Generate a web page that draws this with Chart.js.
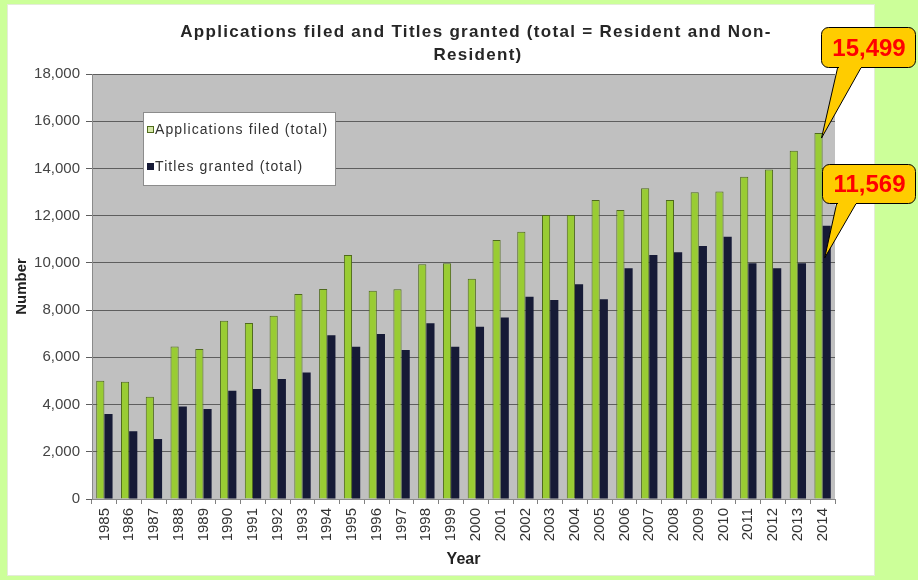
<!DOCTYPE html>
<html>
<head>
<meta charset="utf-8">
<script src="https://cdn.jsdelivr.net/npm/chart.js@4"></script>
<style>
  html, body { margin: 0; padding: 0; background: #ccff99; }
  #wrap { position: absolute; left: 0; top: 0; width: 918px; height: 580px; }
</style>
</head>
<body>
<div id="wrap"><canvas id="chartTitres" width="918" height="580"></canvas></div>
<script>
const years = ["1985", "1986", "1987", "1988", "1989", "1990", "1991", "1992", "1993", "1994",
  "1995", "1996", "1997", "1998", "1999", "2000", "2001", "2002", "2003", "2004",
  "2005", "2006", "2007", "2008", "2009", "2010", "2011", "2012", "2013", "2014"];

const applicationsFiled = [5010, 4970, 4330, 6460, 6350, 7550, 7450, 7760, 8680, 8890,
  10330, 8820, 8880, 9940, 9980, 9330, 10970, 11320, 12030, 12030,
  12660, 12240, 13160, 12660, 12990, 13020, 13650, 13960, 14750, 15499];

const titlesGranted = [3600, 2870, 2540, 3920, 3810, 4590, 4660, 5080, 5360, 6940,
  6450, 6990, 6310, 7440, 6450, 7300, 7690, 8570, 8430, 9100,
  8460, 9770, 10330, 10450, 10720, 11110, 9980, 9770, 9980, 11569];

const yTicks = [0, 2000, 4000, 6000, 8000, 10000, 12000, 14000, 16000, 18000];

const titleLines = ["Applications filed and Titles granted (total = Resident and Non-", "Resident)"];

// callouts pointing at the 2014 bars
const callouts = [
  { dataset: 0, index: 29, text: "15,499", box: [821, 27, 94, 40], base: [838, 862], tipDx: 3, tipDy: 5 },
  { dataset: 1, index: 29, text: "11,569", box: [822, 164, 93, 39], base: [837, 857], tipDx: -2, tipDy: 32 },
];

const FONT = "'Liberation Sans', Arial, sans-serif";

// fond du panneau + zone grise du graphique
const fondPlugin = {
  id: "fond",
  beforeDraw(chart) {
    const { ctx, chartArea: a } = chart;
    ctx.save();
    ctx.fillStyle = "#ffffff";
    ctx.fillRect(7, 4, 868, 572);
    ctx.strokeStyle = "#e4ecd8";
    ctx.strokeRect(7.5, 4.5, 867, 571);
    ctx.fillStyle = "#c0c0c0";
    ctx.fillRect(a.left, a.top, a.right - a.left, a.bottom - a.top);
    ctx.restore();
  },
};

// titre + légende + bulles
const decorPlugin = {
  id: "decor",
  afterDraw(chart) {
    const { ctx } = chart;
    ctx.save();

    // titre
    ctx.font = "bold 17px " + FONT;
    ctx.letterSpacing = "1.3px";
    ctx.fillStyle = "#262626";
    ctx.textAlign = "center";
    ctx.textBaseline = "middle";
    ctx.fillText(titleLines[0], 476, 32);
    ctx.fillText(titleLines[1], 478, 55);

    // légende
    ctx.fillStyle = "#ffffff";
    ctx.fillRect(143, 112, 192, 73);
    ctx.strokeStyle = "#8c8c8c";
    ctx.lineWidth = 1;
    ctx.strokeRect(143.5, 112.5, 192, 73);
    ctx.font = "14px " + FONT;
    ctx.letterSpacing = "1.1px";
    ctx.textAlign = "left";
    chart.data.datasets.forEach((ds, i) => {
      const y = i === 0 ? 130 : 167;
      ctx.fillStyle = i === 0 ? "#d6e8a8" : ds.backgroundColor;
      ctx.fillRect(147, y - 4, 7, 7);
      ctx.strokeStyle = ds.borderColor;
      ctx.strokeRect(147.5, y - 3.5, 6, 6);
      ctx.fillStyle = "#333333";
      ctx.fillText(ds.label, 155, y);
    });
    ctx.letterSpacing = "0px";

    // bulles
    callouts.forEach((c) => {
      const bar = chart.getDatasetMeta(c.dataset).data[c.index];
      const yScale = chart.scales.y;
      const value = chart.data.datasets[c.dataset].data[c.index];
      const tipX = bar.x + c.tipDx;
      const tipY = yScale.getPixelForValue(value) + c.tipDy;
      const [bx, by, bw, bh] = c.box;
      const bottom = by + bh;

      ctx.fillStyle = "#ffcc00";
      ctx.strokeStyle = "#000000";
      ctx.lineWidth = 1;
      ctx.beginPath();
      ctx.moveTo(c.base[0], bottom - 1);
      ctx.lineTo(tipX, tipY);
      ctx.lineTo(c.base[1], bottom - 1);
      ctx.closePath();
      ctx.fill();
      ctx.stroke();

      ctx.beginPath();
      ctx.roundRect(bx + 0.5, by + 0.5, bw, bh, 7);
      ctx.fill();
      ctx.stroke();

      ctx.fillRect(c.base[0] + 1, bottom - 2, c.base[1] - c.base[0] - 2, 3);

      ctx.fillStyle = "#ff0000";
      ctx.font = "bold 24px " + FONT;
      ctx.textAlign = "center";
      ctx.textBaseline = "middle";
      ctx.fillText(c.text, bx + bw / 2 + 1, by + bh / 2 + 2);
    });

    ctx.restore();
  },
};

function renderChartTitres() {
  const canvas = document.getElementById("chartTitres");
  if (!canvas || !window.Chart) return;

  new Chart(canvas, {
    type: "bar",
    data: {
      labels: years,
      datasets: [
        {
          label: "Applications filed (total)",
          data: applicationsFiled,
          backgroundColor: "#99cc33",
          borderColor: "#4f6a1c",
          borderWidth: 1,
          barPercentage: 1.0,
          categoryPercentage: 0.66,
        },
        {
          label: "Titles granted (total)",
          data: titlesGranted,
          backgroundColor: "#161a36",
          borderColor: "#161a36",
          borderWidth: 0,
          barPercentage: 1.0,
          categoryPercentage: 0.66,
        },
      ],
    },
    options: {
      responsive: false,
      animation: false,
      layout: { padding: { top: 74, right: 83, left: 0, bottom: 0 } },
      scales: {
        x: {
          grid: {
            display: true,
            drawOnChartArea: false,
            tickLength: 5,
            color: "#808080",
          },
          border: { color: "#8a8a8a" },
          ticks: {
            minRotation: 90,
            maxRotation: 90,
            autoSkip: false,
            padding: 4,
            color: "#333333",
            font: { family: FONT, size: 15 },
          },
          title: {
            display: true,
            text: "Year",
            color: "#222222",
            font: { family: FONT, size: 16, weight: "bold" },
            padding: { top: 0, bottom: 11 },
          },
          afterFit: (s) => { s.height = 81; },
        },
        y: {
          min: 0,
          max: 18000,
          afterBuildTicks: (s) => { s.ticks = yTicks.map((v) => ({ value: v })); },
          grid: {
            color: "#5e5e5e",
            tickLength: 6,
          },
          border: { color: "#8a8a8a" },
          ticks: {
            padding: 6,
            color: "#444444",
            font: { family: FONT, size: 15 },
            callback: (v) => v.toLocaleString("en-US"),
          },
          title: {
            display: true,
            text: "Number",
            color: "#222222",
            font: { family: FONT, size: 15, weight: "bold" },
            padding: { top: 13, bottom: 0 },
          },
          afterFit: (s) => { s.width = 92; },
        },
      },
      plugins: {
        legend: { display: false },
        title: { display: false },
        tooltip: { enabled: false },
      },
    },
    plugins: [fondPlugin, decorPlugin],
  });
}

renderChartTitres();
</script>
</body>
</html>
